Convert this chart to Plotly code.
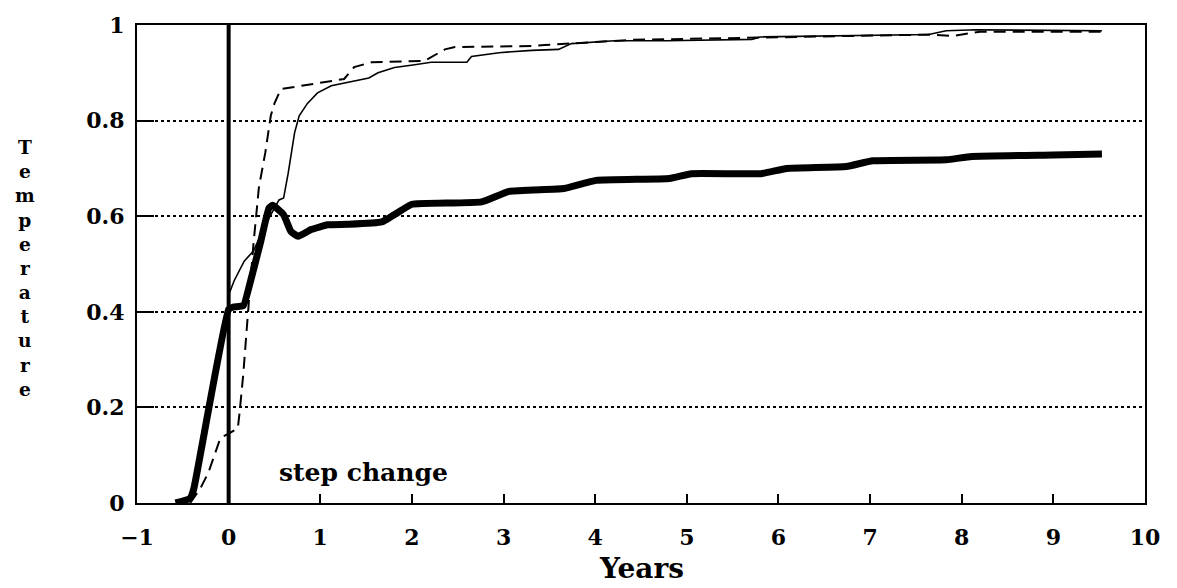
import plotly.graph_objects as go

# ---- data ----
thick_x = [-0.58, -0.42, -0.38, 0.0, 0.05, 0.16, 0.24, 0.35, 0.44, 0.48, 0.6, 0.68, 0.76, 0.9, 1.08,
           1.3, 1.67, 1.89, 2.0, 2.76, 3.06, 3.66, 4.01, 4.81, 5.05, 5.81, 6.09, 6.74, 7.03, 7.83,
           8.11, 9.0, 9.53]
thick_y = [0.0, 0.01, 0.03, 0.405, 0.41, 0.413, 0.465, 0.547, 0.617, 0.623, 0.603, 0.568, 0.558, 0.572, 0.582,
           0.583, 0.588, 0.613, 0.625, 0.63, 0.652, 0.658, 0.675, 0.679, 0.689, 0.689, 0.700, 0.704, 0.716, 0.718,
           0.725, 0.728, 0.730]

thin_x = [0.0, 0.06, 0.17, 0.27, 0.42, 0.55, 0.6, 0.65, 0.72, 0.77, 0.86, 0.97, 1.12, 1.3, 1.53,
          1.63, 1.81, 2.03, 2.21, 2.6, 2.65, 2.95, 3.31, 3.6, 3.74, 4.21, 4.77, 5.71, 5.8, 7.64,
          7.83, 8.16, 9.53]
thin_y = [0.435, 0.465, 0.506, 0.527, 0.589, 0.634, 0.638, 0.69, 0.775, 0.81, 0.836, 0.858, 0.873, 0.88, 0.889,
          0.9, 0.911, 0.917, 0.922, 0.922, 0.934, 0.942, 0.947, 0.949, 0.961, 0.967, 0.967, 0.970, 0.975, 0.980,
          0.988, 0.99, 0.988]

dash_x = [-0.42, -0.31, -0.22, -0.09, 0.0, 0.1, 0.12, 0.16, 0.2, 0.22, 0.27, 0.33, 0.4, 0.46, 0.5,
          0.57, 1.04, 1.26, 1.37, 1.56, 2.14, 2.36, 2.47, 3.31, 3.45, 4.4, 5.61, 7.64, 7.9, 8.2, 9.53]
dash_y = [0.0, 0.03, 0.064, 0.136, 0.145, 0.156, 0.19, 0.27, 0.37, 0.42, 0.54, 0.66, 0.733, 0.81, 0.836,
          0.866, 0.88, 0.887, 0.912, 0.922, 0.925, 0.949, 0.954, 0.956, 0.958, 0.969, 0.973, 0.98, 0.977, 0.986, 0.986]

step_x = [0, 0]
step_y = [0, 1]

x_ticks = list(range(-1, 11))
y_ticks = [0, 0.2, 0.4, 0.6, 0.8, 1]
y_ticktext = ["0", "0.2", "0.4", "0.6", "0.8", "1"]

FONT = "DejaVu Serif"

fig = go.Figure()
fig.add_trace(go.Scatter(x=step_x, y=step_y, mode="lines",
                         line=dict(color="black", width=4), showlegend=False, hoverinfo="skip"))
fig.add_trace(go.Scatter(x=dash_x, y=dash_y, mode="lines",
                         line=dict(color="black", width=2, dash="12px,7px"), showlegend=False))
fig.add_trace(go.Scatter(x=thin_x, y=thin_y, mode="lines",
                         line=dict(color="black", width=1.6), showlegend=False))
fig.add_trace(go.Scatter(x=thick_x, y=thick_y, mode="lines",
                         line=dict(color="black", width=7, shape="spline", smoothing=0.4), showlegend=False))

fig.add_annotation(x=1.47, y=0.064, xref="x", yref="y", text="step change", showarrow=False,
                   font=dict(family=FONT, size=25, color="black", weight="bold"))
fig.add_annotation(x=0.5, y=-0.174, xref="paper", yref="paper", text="Years", showarrow=False,
                   xanchor="center", yanchor="bottom", borderpad=0,
                   font=dict(family=FONT, size=28, color="black", weight="bold"))
fig.add_annotation(x=-0.111, y=0.49, xref="paper", yref="paper",
                   text="<br>".join(list("Temperature")), showarrow=False,
                   xanchor="center", yanchor="middle", align="center",
                   font=dict(family=FONT, size=18.6, color="black", weight="bold"))

fig.update_layout(
    width=1177, height=588, autosize=False,
    margin=dict(l=137, r=32, t=17, b=85),
    paper_bgcolor="white", plot_bgcolor="white",
    xaxis=dict(range=[-1, 10], tickvals=x_ticks, showgrid=False, zeroline=False,
               showline=True, linecolor="black", linewidth=2, mirror=True,
               ticks="inside", ticklen=9, tickwidth=1.5, tickcolor="black",
               ticklabelstandoff=14,
               tickfont=dict(family=FONT, size=22, color="black", weight="bold")),
    yaxis=dict(range=[0, 1], tickvals=y_ticks, ticktext=y_ticktext,
               showgrid=True, gridcolor="black", gridwidth=1.5, griddash="dot", zeroline=False,
               showline=True, linecolor="black", linewidth=2, mirror=True,
               ticks="inside", ticklen=17, tickwidth=2, tickcolor="black",
               ticklabelstandoff=6,
               tickfont=dict(family=FONT, size=22, color="black", weight="bold")),
)

fig.write_html("out.html")
